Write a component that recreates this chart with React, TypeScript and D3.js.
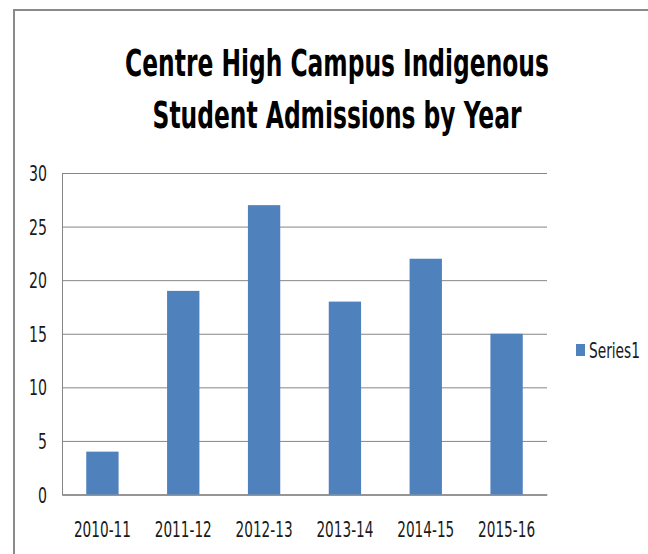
import { useEffect, useRef } from "react";
import * as d3 from "d3";

const years = ["2010-11", "2011-12", "2012-13", "2013-14", "2014-15", "2015-16"];
const admissions = [4, 19, 27, 18, 22, 15];
const yTicks = [0, 5, 10, 15, 20, 25, 30];
const titleLines = ["Centre High Campus Indigenous", "Student Admissions by Year"];
const seriesName = "Series1";

const FONT = "'DejaVu Sans Condensed', 'Liberation Sans Narrow', sans-serif";

// draw a text then squeeze it horizontally to a given width (Calibri-like narrow glyphs)
function narrowText(
  parent: d3.Selection<any, unknown, null, undefined>,
  str: string,
  x: number,
  y: number,
  w: number,
  size: number,
  anchor: string,
  bold = false
) {
  const t = parent.append("text")
    .attr("x", 0).attr("y", 0)
    .attr("text-anchor", anchor)
    .attr("font-family", FONT)
    .attr("font-size", size)
    .attr("font-weight", bold ? "bold" : "normal")
    .attr("fill", bold ? "#000" : "#1a1a1a")
    .text(str);
  const natural = (t.node() as SVGTextElement).getComputedTextLength() || w;
  const s = w / natural;
  t.attr("transform", `translate(${x},${y}) scale(${s},1)`);
  return t;
}

export default function App() {
  const ref = useRef<SVGSVGElement | null>(null);

  useEffect(() => {
    if (!ref.current) return;

    const width = 648;
    const height = 554;
    const margin = { top: 173, right: 101, bottom: 59, left: 62 };

    const svg = d3.select(ref.current).attr("width", width).attr("height", height);
    svg.selectAll("*").remove();

    svg.append("rect").attr("width", width).attr("height", height).attr("fill", "white");

    // chart frame
    svg.append("rect")
      .attr("x", 14).attr("y", 10)
      .attr("width", 660).attr("height", 600)
      .attr("fill", "white")
      .attr("stroke", "#8a8a8a")
      .attr("stroke-width", 2);

    /* ---------------- TITLE ---------------- */
    narrowText(svg, titleLines[0], 337, 76, 424, 38, "middle", true);
    narrowText(svg, titleLines[1], 337, 128, 369, 38, "middle", true);

    /* ---------------- SCALES ---------------- */
    const x = d3.scaleBand()
      .domain(years)
      .range([margin.left, width - margin.right])
      .paddingInner(0.6)
      .paddingOuter(0.3);

    const y = d3.scaleLinear()
      .domain([0, 30])
      .range([height - margin.bottom - 0.5, margin.top]);

    /* ---------------- GRID / AXES ---------------- */
    const gy = svg.append("g")
      .attr("transform", `translate(${margin.left},0)`)
      .call(
        d3.axisLeft(y)
          .tickValues(yTicks)
          .tickSize(-(width - margin.left - margin.right))
          .tickFormat(() => "")
      );
    gy.select(".domain").attr("stroke", "#868686");
    gy.selectAll(".tick line").attr("stroke", "#868686");

    const gx = svg.append("g")
      .attr("transform", `translate(0,${height - margin.bottom - 0.5})`)
      .call(d3.axisBottom(x).tickSize(0).tickFormat(() => ""));
    gx.select(".domain").attr("stroke", "#868686");

    // tick labels
    yTicks.forEach((v) => {
      const s = String(v);
      narrowText(svg, s, 47, y(v) + 8, s.length === 1 ? 9 : 18, 22, "end");
    });
    years.forEach((d) => {
      narrowText(svg, d, x(d)! + x.bandwidth() / 2, 537, 57, 22, "middle");
    });

    /* ---------------- BARS ---------------- */
    svg.selectAll(".bar")
      .data(years)
      .enter()
      .append("rect")
      .attr("x", (d) => x(d)!)
      .attr("y", (_d, i) => y(admissions[i]))
      .attr("width", x.bandwidth())
      .attr("height", (_d, i) => y(0) - y(admissions[i]))
      .attr("fill", "#4f81bd");

    /* ---------------- LEGEND ---------------- */
    svg.append("rect")
      .attr("x", 576).attr("y", 344)
      .attr("width", 9).attr("height", 12)
      .attr("fill", "#4f81bd");
    narrowText(svg, seriesName, 589, 358, 51, 22, "start");
  }, []);

  return (
    <div style={{ position: "absolute", left: 0, top: 0 }}>
      <svg ref={ref} style={{ display: "block" }} />
    </div>
  );
}
